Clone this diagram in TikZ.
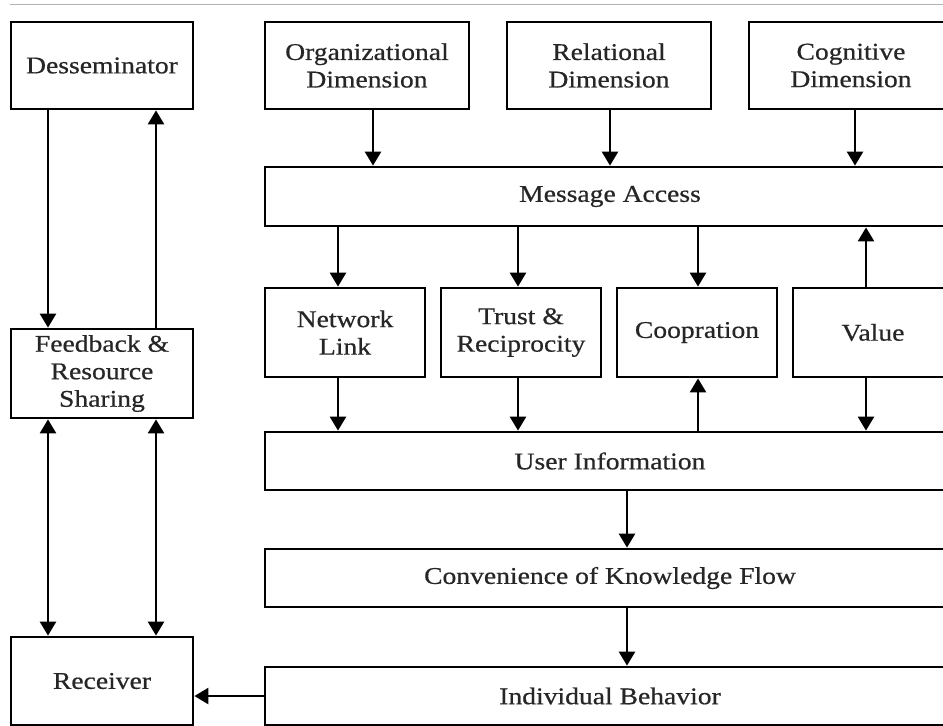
\documentclass[tikz,border=0pt]{standalone}
\usepackage{fontspec}
\setmainfont{Liberation Serif}[FakeStretch=1.15,FakeBold=0.6]
\usetikzlibrary{arrows.meta}
\begin{document}
\begin{tikzpicture}[x=1pt,y=-1pt,
  box/.style={draw=black, line width=2.8pt, align=center, inner sep=0pt,
    font=\fontsize{24}{27.5}\selectfont, text=black!85},
  arr/.style={line width=2.5pt, -{Triangle[width=16pt,length=14pt]}},
  darr/.style={line width=2.5pt, {Triangle[width=16pt,length=14pt]}-{Triangle[width=16pt,length=14pt]}}]
\useasboundingbox (0,0) rectangle (943,726);
\clip (0,0) rectangle (943,726);
\draw[black!30, line width=1pt] (10,4) -- (943,4);
% left column
\node[box, minimum width=182pt, minimum height=87pt] (des) at (102,65.5) {Desseminator};
\node[box, minimum width=182pt, minimum height=89pt] (fb) at (102,373.5) {Feedback \&\\Resource\\Sharing};
\node[box, minimum width=182pt, minimum height=88pt] (rec) at (102,681) {Receiver};
% top dimensions
\node[box, minimum width=204pt, minimum height=87pt] (org) at (367,65.5) {Organizational\\Dimension};
\node[box, minimum width=204pt, minimum height=87pt] (rel) at (609,65.5) {Relational\\Dimension};
\node[box, minimum width=204pt, minimum height=87pt] (cog) at (851,65.5) {Cognitive\\Dimension};
% wide bars
\node[box, minimum width=690pt, minimum height=59pt] (msg) at (610,196.5) {Message Access};
\node[box, minimum width=690pt, minimum height=58pt] (user) at (610,461) {User Information};
\node[box, minimum width=690pt, minimum height=58pt] (conv) at (610,578) {Convenience of Knowledge Flow};
\node[box, minimum width=690pt, minimum height=58pt] (ind) at (610,696) {Individual Behavior};
% middle row
\node[box, minimum width=160pt, minimum height=89pt] (net) at (345,332.5) {Network\\Link};
\node[box, minimum width=160pt, minimum height=89pt] (tru) at (521,332.5) {Trust \&\\Reciprocity};
\node[box, minimum width=160pt, minimum height=89pt] (coo) at (697,332.5) {Coopration};
\node[box, minimum width=160pt, minimum height=89pt] (val) at (873,332.5) {Value};
% x positions of connectors
\coordinate (xd1) at (48,0);
\coordinate (xd2) at (156,0);
\coordinate (xo) at (373,0);
\coordinate (xr) at (610,0);
\coordinate (xc) at (855,0);
\coordinate (xn) at (338,0);
\coordinate (xt) at (518,0);
\coordinate (xp) at (698,0);
\coordinate (xv) at (866,0);
\coordinate (xm) at (627,0);
% left column connectors
\draw[arr] (xd1 |- des.south) -- (xd1 |- fb.north);
\draw[arr] (xd2 |- fb.north) -- (xd2 |- des.south);
\draw[darr] (xd1 |- fb.south) -- (xd1 |- rec.north);
\draw[darr] (xd2 |- fb.south) -- (xd2 |- rec.north);
% dimensions to message access
\draw[arr] (xo |- org.south) -- (xo |- msg.north);
\draw[arr] (xr |- rel.south) -- (xr |- msg.north);
\draw[arr] (xc |- cog.south) -- (xc |- msg.north);
% message access to middle row
\draw[arr] (xn |- msg.south) -- (xn |- net.north);
\draw[arr] (xt |- msg.south) -- (xt |- tru.north);
\draw[arr] (xp |- msg.south) -- (xp |- coo.north);
\draw[arr] (xv |- val.north) -- (xv |- msg.south);
% middle row to user information
\draw[arr] (xn |- net.south) -- (xn |- user.north);
\draw[arr] (xt |- tru.south) -- (xt |- user.north);
\draw[arr] (xp |- user.north) -- (xp |- coo.south);
\draw[arr] (xv |- val.south) -- (xv |- user.north);
% lower chain
\draw[arr] (xm |- user.south) -- (xm |- conv.north);
\draw[arr] (xm |- conv.south) -- (xm |- ind.north);
\draw[arr] (ind.west) -- (ind.west -| rec.east);
\end{tikzpicture}
\end{document}
